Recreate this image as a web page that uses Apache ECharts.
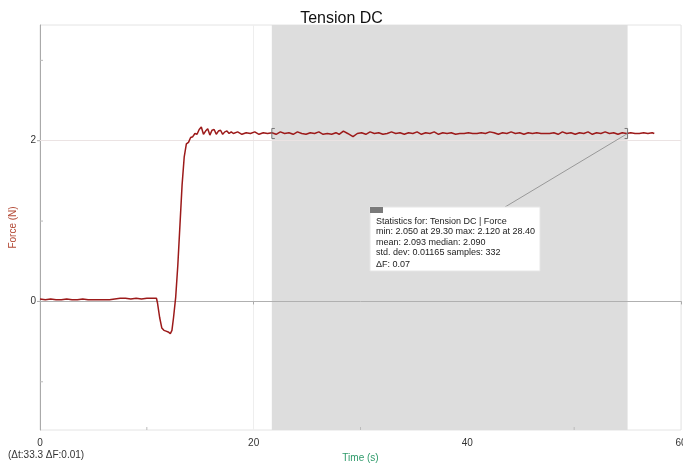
<!DOCTYPE html>
<html>
<head>
<meta charset="utf-8">
<script src="https://cdn.jsdelivr.net/npm/echarts@6/dist/echarts.min.js"></script>
<style>
  html, body { margin: 0; padding: 0; background: #fff; }
  #chart { width: 683px; height: 465px; }
</style>
</head>
<body>
<div id="chart"></div>
<script>
// Force sensor run: [time (s), force (N)]
const restPhase = [
  [0.0, 0.03], [0.5, 0.02], [1.0, 0.03], [1.5, 0.02], [2.0, 0.02], [2.5, 0.03],
  [3.0, 0.02], [3.5, 0.02], [4.0, 0.03], [4.5, 0.02], [5.0, 0.02], [5.5, 0.02],
  [6.0, 0.02], [6.5, 0.02], [7.0, 0.03], [7.5, 0.04], [8.0, 0.04], [8.5, 0.03],
  [9.0, 0.04], [9.5, 0.03], [10.0, 0.04], [10.5, 0.04], [10.9, 0.04]
];
const pullPhase = [
  [11.0, -0.02], [11.2, -0.2], [11.4, -0.33], [11.6, -0.36], [11.8, -0.37], [12.0, -0.38],
  [12.2, -0.40], [12.35, -0.36], [12.5, -0.2], [12.7, 0.05], [12.9, 0.45], [13.1, 0.95],
  [13.3, 1.45], [13.5, 1.8], [13.7, 1.96], [13.9, 1.98], [14.1, 2.04], [14.3, 2.05],
  [14.5, 2.09], [14.7, 2.08], [14.9, 2.14], [15.1, 2.17], [15.3, 2.08], [15.5, 2.12],
  [15.7, 2.15], [15.9, 2.07], [16.1, 2.13], [16.3, 2.14], [16.5, 2.08], [16.7, 2.12],
  [16.9, 2.13], [17.1, 2.08], [17.3, 2.11], [17.5, 2.12], [17.7, 2.09], [17.9, 2.11]
];
const holdPhase = [
  [18.1, 2.09], [18.5, 2.11], [18.9, 2.08], [19.3, 2.10], [19.7, 2.09], [20.1, 2.11],
  [20.5, 2.08], [20.9, 2.10], [21.3, 2.09], [21.7, 2.10], [22.1, 2.08], [22.5, 2.11],
  [22.9, 2.09], [23.3, 2.10], [23.7, 2.08], [24.1, 2.11], [24.5, 2.09], [24.9, 2.08],
  [25.3, 2.10], [25.7, 2.09], [26.1, 2.11], [26.5, 2.08], [26.9, 2.09], [27.3, 2.08],
  [27.7, 2.10], [28.0, 2.08], [28.4, 2.12], [28.8, 2.09], [29.3, 2.05], [29.7, 2.09],
  [30.1, 2.10], [30.5, 2.08], [30.9, 2.11], [31.3, 2.09], [31.7, 2.10], [32.1, 2.08],
  [32.5, 2.09], [32.9, 2.11], [33.3, 2.09], [33.7, 2.10], [34.1, 2.08], [34.5, 2.10],
  [34.9, 2.09], [35.3, 2.11], [35.7, 2.08], [36.1, 2.10], [36.5, 2.09], [36.9, 2.11],
  [37.3, 2.08], [37.7, 2.10], [38.1, 2.09], [38.5, 2.10], [38.9, 2.08], [39.3, 2.09],
  [39.7, 2.09], [40.1, 2.10], [40.5, 2.09], [40.9, 2.09], [41.3, 2.10], [41.7, 2.09],
  [42.1, 2.11], [42.5, 2.10], [42.9, 2.08], [43.3, 2.10], [43.7, 2.09], [44.1, 2.11],
  [44.5, 2.09], [44.9, 2.10], [45.3, 2.08], [45.7, 2.10], [46.1, 2.09], [46.5, 2.10],
  [46.9, 2.09], [47.3, 2.09], [47.7, 2.09], [48.1, 2.10], [48.5, 2.08], [48.9, 2.11],
  [49.3, 2.09], [49.7, 2.10], [50.1, 2.08], [50.5, 2.10], [50.9, 2.09], [51.3, 2.11],
  [51.7, 2.08], [52.1, 2.10], [52.5, 2.09], [52.9, 2.11], [53.3, 2.09], [53.7, 2.10],
  [54.1, 2.08], [54.5, 2.10], [54.9, 2.09], [55.3, 2.10], [55.7, 2.09], [56.1, 2.09],
  [56.5, 2.10], [56.9, 2.09], [57.3, 2.10], [57.5, 2.09]
];

// Selected interval and its statistics
const selection = [21.7, 55.0];
const selectionLevel = 2.09;
const statsLines = [
  'Statistics for: Tension DC | Force',
  'min: 2.050 at 29.30 max: 2.120 at 28.40',
  'mean: 2.093 median: 2.090',
  'std. dev: 0.01165 samples: 332'
];
const deltaLine = '\u0394F: 0.07';
const statsAnchor = [30.9, 1.17];
const intervalNote = '(\u0394t:33.3 \u0394F:0.01)';

// Axis ticks
const xLabelTicks = [0, 20, 40, 60];
const xMinorTicks = [10, 30, 50];
const yLabelTicks = [0, 2];
const yMinorTicks = [-1, 1, 3];

const series = restPhase.concat(pullPhase, holdPhase);
const FONT = 'Liberation Sans, Arial, sans-serif';

const chart = echarts.init(document.getElementById('chart'), null, { renderer: 'canvas' });

const option = {
  animation: false,
  backgroundColor: '#ffffff',
  title: {
    text: 'Tension DC',
    left: 'center',
    top: 6,
    textStyle: { fontFamily: FONT, fontSize: 16, fontWeight: 'normal', color: '#111' }
  },
  grid: {
    left: 40, right: 2, top: 25, bottom: 35,
    outerBoundsMode: 'none', containLabel: false,
    show: true, borderColor: '#e4e4e4', borderWidth: 1
  },
  xAxis: {
    type: 'value',
    min: 0,
    max: 60,
    interval: 20,
    name: 'Time (s)',
    nameLocation: 'middle',
    nameGap: 22,
    nameTextStyle: { fontFamily: FONT, fontSize: 10, color: '#2e9a6a' },
    axisLine: { show: true, lineStyle: { color: '#aaa', width: 1 } },
    axisTick: { show: true, length: 3, lineStyle: { color: '#aaa' } },
    axisLabel: {
      fontFamily: FONT, fontSize: 10, color: '#333', margin: 8,
      customValues: xLabelTicks
    },
    splitLine: { show: true, lineStyle: { color: '#eeeeee', width: 1 } }
  },
  yAxis: {
    type: 'value',
    min: -1.6,
    max: 3.44,
    name: 'Force (N)',
    nameLocation: 'middle',
    nameGap: 22,
    nameTextStyle: { fontFamily: FONT, fontSize: 10, color: '#b34a36' },
    axisLine: { show: true, lineStyle: { color: '#aaa', width: 1 } },
    axisTick: { show: false },
    axisLabel: {
      fontFamily: FONT, fontSize: 10, color: '#333', margin: 4,
      customValues: yLabelTicks
    },
    splitLine: { show: false }
  },
  series: [
    {
      type: 'line',
      data: series,
      showSymbol: false,
      symbol: 'none',
      z: 5,
      lineStyle: { color: '#9c1a1a', width: 1.5 },
      markArea: {
        silent: true,
        itemStyle: { color: '#dddddd' },
        data: [[{ xAxis: selection[0] }, { xAxis: selection[1] }]]
      },
      markLine: {
        silent: true,
        symbol: 'none',
        label: { show: false },
        data: [
          { yAxis: 0, lineStyle: { color: '#b0b0b0', width: 1, type: 'solid' } },
          { yAxis: 2, lineStyle: { color: '#ebe3e3', width: 1, type: 'solid' } }
        ]
      }
    }
  ]
};

chart.setOption(option);

// Annotation overlays placed through the chart's own coordinate system
function px(p) { return chart.convertToPixel({ gridIndex: 0 }, p); }

function buildOverlays() {
  const g = [];
  const y0 = px([0, -1.6])[1];
  // minor ticks
  xMinorTicks.forEach(function (t) {
    const p = px([t, -1.6]);
    g.push({ type: 'line', shape: { x1: p[0], y1: y0 - 3, x2: p[0], y2: y0 }, style: { stroke: '#bbb', lineWidth: 1 }, z: 10 });
  });
  yMinorTicks.forEach(function (v) {
    const p = px([0, v]);
    g.push({ type: 'line', shape: { x1: p[0], y1: p[1], x2: p[0] + 3, y2: p[1] }, style: { stroke: '#bbb', lineWidth: 1 }, z: 10 });
  });
  yLabelTicks.forEach(function (v) {
    const p = px([0, v]);
    g.push({ type: 'line', shape: { x1: p[0] - 3, y1: p[1], x2: p[0], y2: p[1] }, style: { stroke: '#aaa', lineWidth: 1 }, z: 10 });
  });

  // selection brackets on the trace
  const a = px([selection[0], selectionLevel]);
  const b = px([selection[1], selectionLevel]);
  g.push({ type: 'polyline', shape: { points: [[a[0] + 3, a[1] - 5], [a[0], a[1] - 5], [a[0], a[1] + 5], [a[0] + 3, a[1] + 5]] }, style: { stroke: '#777', lineWidth: 1, fill: null }, z: 12 });
  g.push({ type: 'polyline', shape: { points: [[b[0] - 3, b[1] - 5], [b[0], b[1] - 5], [b[0], b[1] + 5], [b[0] - 3, b[1] + 5]] }, style: { stroke: '#777', lineWidth: 1, fill: null }, z: 12 });

  // statistics box
  const s = px(statsAnchor);
  const bx = Math.round(s[0]), by = Math.round(s[1]);
  const bw = 170, bh = 64;
  g.push({ type: 'line', shape: { x1: bx + 135, y1: by, x2: b[0], y2: b[1] }, style: { stroke: '#999', lineWidth: 1 }, z: 11 });
  g.push({ type: 'rect', shape: { x: bx, y: by, width: bw, height: bh }, style: { fill: '#ffffff', stroke: '#e6e6e6', lineWidth: 1 }, z: 13 });
  g.push({ type: 'rect', shape: { x: bx, y: by, width: 13, height: 6 }, style: { fill: '#7a7a7a' }, z: 14 });
  statsLines.forEach(function (line, i) {
    g.push({ type: 'text', x: bx + 6, y: by + 10 + i * 10.4, style: { text: line, font: '9px ' + FONT, fill: '#222', textVerticalAlign: 'top' }, z: 14 });
  });
  g.push({ type: 'text', x: bx + 6, y: by + 53, style: { text: deltaLine, font: '9px ' + FONT, fill: '#222', textVerticalAlign: 'top' }, z: 14 });

  // interval readout
  g.push({ type: 'text', x: 8, y: 450, style: { text: intervalNote, font: '10px ' + FONT, fill: '#333', textVerticalAlign: 'top' }, z: 14 });

  chart.setOption({ graphic: g });
}
buildOverlays();
</script>
</body>
</html>
